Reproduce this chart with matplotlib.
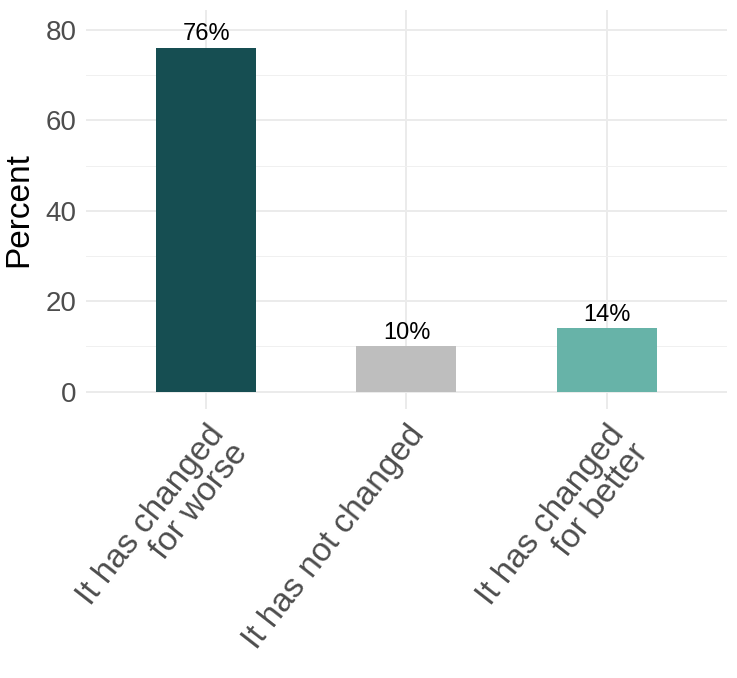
import matplotlib
matplotlib.use("Agg")
import matplotlib.pyplot as plt

categories = ["It has changed\nfor worse", "It has not changed", "It has changed\nfor better"]
percents = [76, 10, 14]
bar_colors = ["#164e52", "#bebebe", "#67b3a8"]

plt.rcParams['font.family'] = ['Liberation Sans', 'DejaVu Sans']

fig = plt.figure(figsize=(7.37, 6.78), dpi=100)
ax = fig.add_axes([0.117, 0.397, 0.869, 0.588])

x = range(1, len(categories) + 1)
ax.bar(x, percents, width=0.5, color=bar_colors, edgecolor="none", zorder=3)
for xi, p in zip(x, percents):
    ax.text(xi, p + 0.6, f"{p}%", ha="center", va="bottom", fontsize=17, color="black")

ax.set_xlim(0.4, 3.6)
ax.set_ylim(-3.8, 84.4)
ax.set_yticks([0, 20, 40, 60, 80])
ax.set_yticks([10, 30, 50, 70], minor=True)
ax.set_xticks(list(x))
ax.set_xticklabels(categories, rotation=52, ha="right", va="top",
                   rotation_mode="anchor", multialignment="right", linespacing=0.95)
ax.tick_params(axis="x", labelsize=24, colors="#4d4d4d", length=0, pad=8)
ax.tick_params(axis="y", labelsize=20, colors="#4d4d4d", length=0, pad=7)
ax.tick_params(which="minor", length=0)

ax.grid(True, which="major", color="#ebebeb", linewidth=1.4, zorder=0)
ax.grid(True, which="minor", axis="y", color="#f0f0f0", linewidth=0.7, zorder=0)
for s in ax.spines.values():
    s.set_visible(False)

ax.set_ylabel("Percent", fontsize=24, color="black", labelpad=8)

fig.savefig("out.png", dpi=100)
